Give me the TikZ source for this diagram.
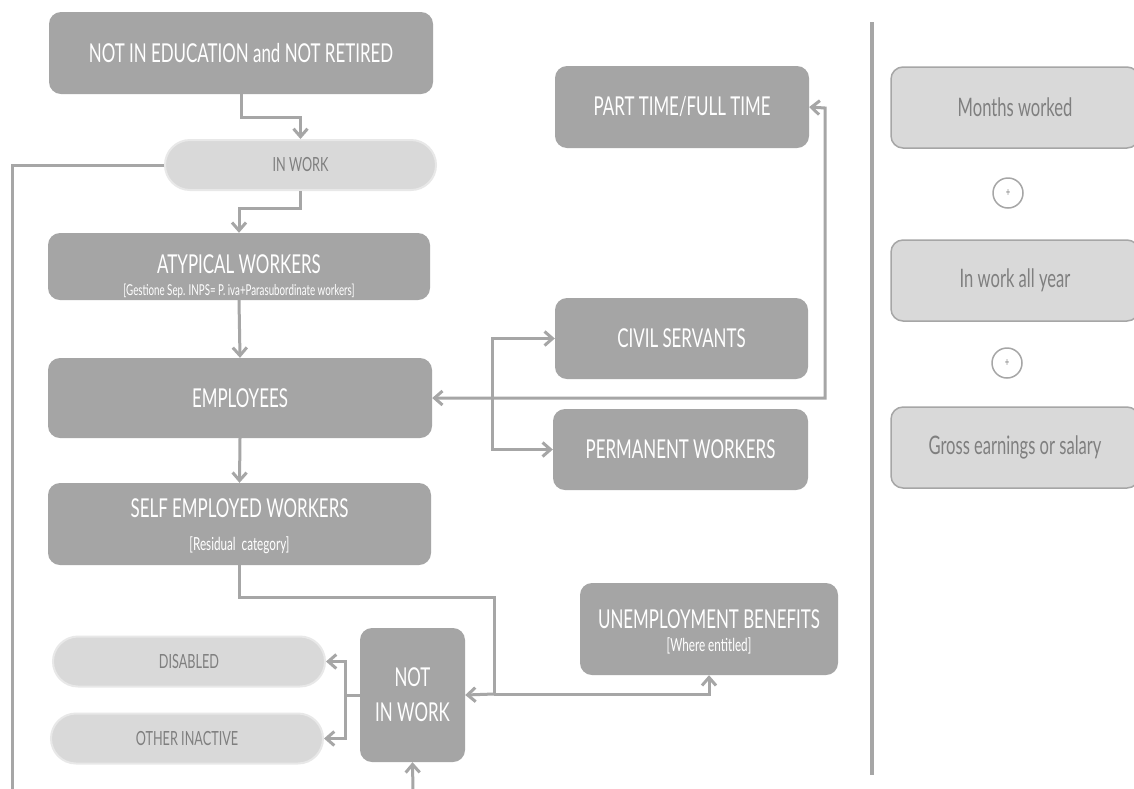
\documentclass[tikz,border=0pt]{standalone}
\usepackage{fontspec}
\setmainfont[FakeStretch=0.65]{Lato}
\usetikzlibrary{arrows.meta,calc}
\definecolor{boxgray}{HTML}{A5A5A5}
\definecolor{linegray}{HTML}{A6A6A6}
\definecolor{pillfill}{HTML}{D9D9D9}
\definecolor{pilledge}{HTML}{E8E8E8}
\definecolor{txtgray}{HTML}{7F7F7F}
\tikzset{
  darkbox/.style={rectangle, rounded corners=12pt, fill=boxgray, text=white, inner sep=0pt, align=center,
    font=\fontsize{26}{35}\selectfont},
  pill/.style={rectangle, rounded corners=25pt, fill=pillfill, draw=pilledge, line width=2pt, text=txtgray,
    inner sep=0pt, minimum height=50pt, font=\fontsize{19.5}{23}\selectfont},
  rbox/.style={rectangle, rounded corners=12pt, fill=pillfill, draw=linegray, line width=1.5pt, text=txtgray,
    inner sep=0pt, minimum width=248pt, minimum height=81pt, font=\fontsize{25.5}{30}\selectfont},
  plus/.style={circle, draw=linegray, line width=1.5pt, fill=white, minimum size=30pt, inner sep=0pt,
    text=txtgray, font=\fontsize{12}{14}\selectfont},
  titletext/.style={text=white, inner sep=0pt, font=\fontsize{26}{30}\selectfont},
  subtext/.style={text=white, inner sep=0pt, font=\fontsize{15}{18}\selectfont},
  bigsub/.style={text=white, inner sep=0pt, font=\fontsize{18}{21}\selectfont},
  conn/.style={draw=linegray, line width=3pt},
  arr/.style={conn, -{Straight Barb[length=8pt,width=14pt]}},
  darr/.style={conn, {Straight Barb[length=8pt,width=14pt]}-{Straight Barb[length=8pt,width=14pt]}},
}
\begin{document}
\begin{tikzpicture}[x=1pt,y=-1pt]
\clip (0,0) rectangle (1134,788);
\fill[white] (0,0) rectangle (1134,788);

% left column
\node[darkbox, minimum width=384pt, minimum height=82pt] (edu) at (241,53) {NOT IN EDUCATION and NOT RETIRED};
\node[pill, minimum width=271pt] (inwork) at (300.5,165) {IN WORK};
\node[darkbox, minimum width=382pt, minimum height=67pt] (atyp) at (239,266.5) {};
\node[titletext] (atypt) at (239,264) {ATYPICAL WORKERS};
\node[subtext] (atyps) at (239,291) {[Gestione Sep. INPS= P. iva+Parasubordinate workers]};
\node[darkbox, minimum width=384pt, minimum height=80pt] (emp) at (240,398) {EMPLOYEES};
\node[darkbox, minimum width=383pt, minimum height=82pt] (self) at (239.5,524) {};
\node[titletext] (selft) at (239.5,508) {SELF EMPLOYED WORKERS};
\node[bigsub] (selfs) at (239.5,545) {[Residual\ \ category]};

\node[darkbox, minimum width=105pt, minimum height=134pt] (niw) at (412.5,695) {NOT\\IN WORK};
\node[pill, minimum width=272pt] (dis) at (189,661.5) {DISABLED};
\node[pill, minimum width=272pt] (oth) at (187,738.5) {OTHER INACTIVE};

% middle column
\node[darkbox, minimum width=254pt, minimum height=82pt] (pt) at (682,107) {PART TIME/FULL TIME};
\node[darkbox, minimum width=253pt, minimum height=81pt] (cs) at (681.5,338.5) {CIVIL SERVANTS};
\node[darkbox, minimum width=255pt, minimum height=81pt] (pw) at (680.5,449.5) {PERMANENT WORKERS};
\node[darkbox, minimum width=258pt, minimum height=92pt] (ub) at (709,629) {};
\node[titletext] (ubt) at (709,619) {UNEMPLOYMENT BENEFITS};
\node[bigsub] (ubs) at (709,646) {[Where\ entitled]};

% right column
\draw[draw=linegray, line width=4pt] (872,22) -- (872,775);
\node[rbox] (mw) at (1015,107.5) {Months worked};
\node[plus] (p1) at (1008,193) {+};
\node[rbox] (wy) at (1015,280.5) {In work all year};
\node[plus] (p2) at (1007,363) {+};
\node[rbox] (ge) at (1015,447.5) {Gross earnings or salary};

% coordinates
\coordinate (lb) at (12,792);
\coordinate (j1) at (494,694);
\coordinate (j3) at (825,108);
\coordinate (j4) at (492,398);
\coordinate (nb) at (413,792);

% connectors
\draw[arr] (edu.south) -- ++(0,23) -| (inwork.north);
\draw[conn] (inwork.west) -| (lb);
\draw[arr] (inwork.south) -- ++(0,17) -| (atyp.north);
\draw[arr] (atyp.south) -- (emp.north);
\draw[arr] (emp.south) -- (self.north);
\draw[conn] (self.south) -- ++(0,32) -| (j1);
\draw[arr] (j1) -- (niw.east);
\draw[arr] (j1) -| (ub.south);
\draw[conn] (niw.west) -- ++(-14,0) coordinate (j2);
\draw[arr] (j2) |- (dis.east);
\draw[arr] (j2) |- (oth.east);
\draw[arr] (nb) -- (niw.south);
\draw[darr] (emp.east) -| (j3) -- (pt.east);
\draw[arr] (j4) |- (cs.west);
\draw[arr] (j4) |- (pw.west);
\end{tikzpicture}
\end{document}
